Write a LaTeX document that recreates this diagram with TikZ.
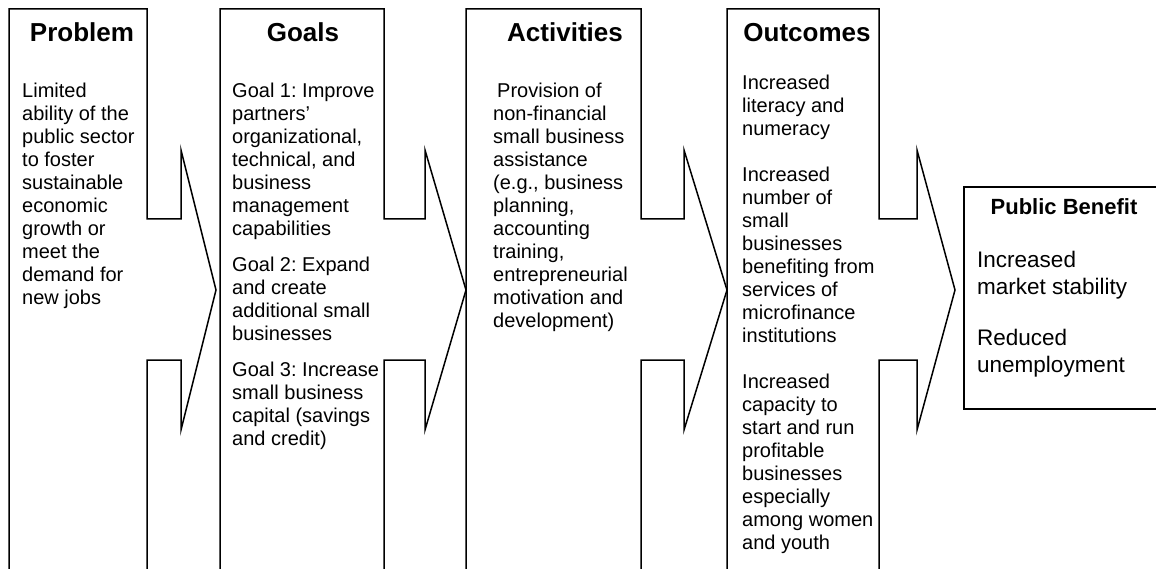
\documentclass[tikz,border=0pt]{standalone}
\usepackage{fontspec}
\setmainfont{Liberation Sans}
\frenchspacing
\newcommand{\fstrut}{\rule{0pt}{16pt}}
\newcommand{\gstrut}{\rule{0pt}{18pt}}
\tikzset{
  col/.style={draw=black, line width=1.5pt, line join=miter},
  body/.style={anchor=north west, inner sep=0pt, align=left, font=\fontsize{20}{23}\selectfont},
  pbbody/.style={anchor=north west, inner sep=0pt, align=left, font=\fontsize{22.5}{27}\selectfont},
  ttl/.style={anchor=base, inner sep=0pt, font=\fontsize{26}{30}\selectfont\bfseries},
  pbttl/.style={anchor=base, inner sep=0pt, font=\fontsize{22}{26}\selectfont\bfseries},
}
\begin{document}
\begin{tikzpicture}[x=1pt,y=-1pt]
\useasboundingbox (0,0) rectangle (1156,569);
\clip (0,0) rectangle (1156,569);
% columns
\draw[col] (9,600) -- (9,9) -- (147,9) -- (147,219) -- (181,219) -- (181,150) -- (216,290) -- (181,430) -- (181,360) -- (147,360) -- (147,600);
\draw[col] (220,600) -- (220,9) -- (384,9) -- (384,219) -- (425,219) -- (425,150) -- (466,290) -- (425,430) -- (425,360) -- (384,360) -- (384,600);
\draw[col] (466,600) -- (466,9) -- (641,9) -- (641,219) -- (684,219) -- (684,150) -- (727,290) -- (684,430) -- (684,360) -- (641,360) -- (641,600);
\draw[col] (727,600) -- (727,9) -- (879,9) -- (879,219) -- (917,219) -- (917,150) -- (955,290) -- (917,430) -- (917,360) -- (879,360) -- (879,600);
\draw[col] (964,187) rectangle (1175,409);
% titles
\node[ttl] (tprob) at (82,42) {Problem};
\node[ttl] (tgoal) at (303,42) {Goals};
\node[ttl] (tact) at (565,42) {Activities};
\node[ttl] (tout) at (807,42) {Outcomes};
\node[pbttl] (tpb) at (1064,215) {Public Benefit};
% bodies
\node[body] (bprob) at (22,81) {\fstrut Limited\\ability of the\\public sector\\to foster\\sustainable\\economic\\growth or\\meet the\\demand for\\new jobs};
\node[body] (bgoal) at (232,81) {\fstrut Goal 1: Improve\\partners’\\organizational,\\technical, and\\business\\management\\capabilities\\[13pt]Goal 2: Expand\\and create\\additional small\\businesses\\[13pt]Goal 3: Increase\\small business\\capital (savings\\and credit)};
\node[body] (bact) at (493,81) {\fstrut\hspace{4pt}Provision of\\non-financial\\small business\\assistance\\(e.g., business\\planning,\\accounting\\training,\\entrepreneurial\\motivation and\\development)};
\node[body] (bout) at (742,73) {\fstrut Increased\\literacy and\\numeracy\\[23pt]Increased\\number of\\small\\businesses\\benefiting from\\services of\\microfinance\\institutions\\[23pt]Increased\\capacity to\\start and run\\profitable\\businesses\\especially\\among women\\and youth};
\node[pbbody] (bpb) at (977,249) {\gstrut Increased\\market stability\\[24pt]Reduced\\unemployment};
\end{tikzpicture}
\end{document}
